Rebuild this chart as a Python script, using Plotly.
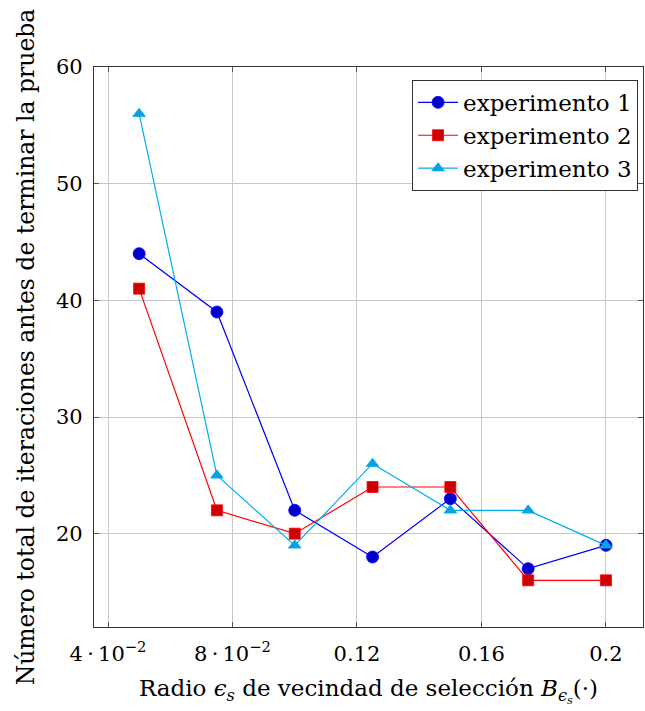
import plotly.graph_objects as go

# Neighbourhood radius values and iteration counts per experiment
radio = [0.05, 0.075, 0.1, 0.125, 0.15, 0.175, 0.2]
experimento_1 = [44, 39, 22, 18, 23, 17, 19]
experimento_2 = [41, 22, 20, 24, 24, 16, 16]
experimento_3 = [56, 25, 19, 26, 22, 22, 19]

x_ticks = [0.04, 0.08, 0.12, 0.16, 0.2]
x_tick_text = ["4\u2009·\u200910<sup>−2</sup>", "8\u2009·\u200910<sup>−2</sup>", "0.12", "0.16", "0.2"]
y_ticks = [20, 30, 40, 50, 60]

FONT = "DejaVu Serif"

series = [
    ("experimento 1", experimento_1, "#0000FF", "#0000CC", "circle", 12),
    ("experimento 2", experimento_2, "#FF0000", "#CC0000", "square", 11),
    ("experimento 3", experimento_3, "#00ADEF", "#0A9FE0", "triangle-up", 11),
]

fig = go.Figure()
for name, vals, line_c, fill_c, sym, size in series:
    fig.add_trace(go.Scatter(
        x=radio, y=vals, name=name, mode="lines+markers",
        line=dict(color=line_c, width=1.2),
        marker=dict(symbol=sym, size=size, color=fill_c,
                    line=dict(color=line_c, width=0.8)),
    ))

axis_common = dict(
    showgrid=True, gridcolor="#C8C8C8", gridwidth=1,
    showline=True, linecolor="#333333", linewidth=1.2, mirror="ticks",
    ticks="inside", ticklen=5, tickcolor="#555555", tickwidth=1,
    zeroline=False, tickfont=dict(family=FONT, size=21, color="black"),
)

fig.update_xaxes(
    range=[0.0355, 0.2119], tickvals=x_ticks, ticktext=x_tick_text,
    ticklabelstandoff=8,
    title=dict(text="Radio <i>ϵ<sub>s</sub></i> de vecindad de selección <i>B<sub>ϵ<sub>s</sub></sub></i>(·)",
               font=dict(family=FONT, size=23, color="black"), standoff=14),
    **axis_common,
)
fig.update_yaxes(
    range=[12, 60], tickvals=y_ticks,
    ticklabelstandoff=6,
    title=dict(text="Número total de iteraciones antes de terminar la prueba",
               font=dict(family=FONT, size=23.5, color="black"), standoff=14),
    **axis_common,
)

fig.update_layout(
    width=645, height=711,
    margin=dict(l=94, r=2, t=67, b=84),
    plot_bgcolor="white", paper_bgcolor="white",
    font=dict(family=FONT, color="black"),
    legend=dict(
        x=0.991, y=0.977, xanchor="right", yanchor="top",
        bgcolor="white", bordercolor="#333333", borderwidth=1,
        font=dict(family=FONT, size=23, color="black"),
        tracegroupgap=0, itemwidth=40,
    ),
)

fig.write_html("out.html")
